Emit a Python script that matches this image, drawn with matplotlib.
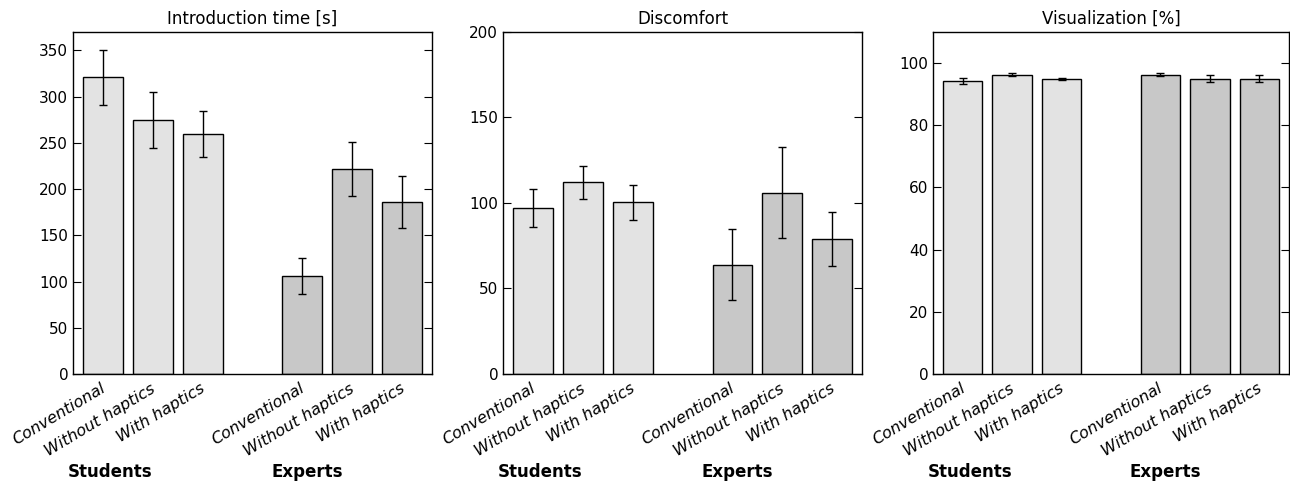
import matplotlib
matplotlib.use("Agg")
import matplotlib.pyplot as plt
import matplotlib.transforms as mtransforms

conditions = ["Conventional", "Without haptics", "With haptics"]
groups = ["Students", "Experts"]

intro_students = [321, 275, 260]
intro_students_err = [30, 30, 25]
intro_experts = [106, 222, 186]
intro_experts_err = [19, 29, 28]

discomfort_students = [97, 112, 100.5]
discomfort_students_err = [11, 9.5, 10.3]
discomfort_experts = [64, 106, 79]
discomfort_experts_err = [20.6, 26.5, 15.7]

visual_students = [94.3, 96.3, 95.0]
visual_students_err = [1.0, 0.5, 0.3]
visual_experts = [96.3, 95.0, 95.0]
visual_experts_err = [0.5, 1.1, 1.1]

panels = [
    ("Introduction time [s]", intro_students, intro_students_err,
     intro_experts, intro_experts_err, 370, [0, 50, 100, 150, 200, 250, 300, 350]),
    ("Discomfort", discomfort_students, discomfort_students_err,
     discomfort_experts, discomfort_experts_err, 200, [0, 50, 100, 150, 200]),
    ("Visualization [%]", visual_students, visual_students_err,
     visual_experts, visual_experts_err, 110, [0, 20, 40, 60, 80, 100]),
]

STUDENT_COLOR = "#e3e3e3"
EXPERT_COLOR = "#c8c8c8"

fig = plt.figure(figsize=(12.9, 4.82), dpi=100)
lefts = [0.0566, 0.390, 0.7233]
widths = [0.2783, 0.2783, 0.2759]
bottom, height = 0.2241, 0.7095

x_students = [0, 1, 2]
x_experts = [4, 5, 6]

# nudge rotated labels a little to the right, like the original
label_shift = mtransforms.ScaledTranslation(0.05, 0, fig.dpi_scale_trans)

for (title, s_vals, s_err, e_vals, e_err, ymax, yticks), left, w in zip(panels, lefts, widths):
    ax = fig.add_axes([left, bottom, w, height])
    ax.bar(x_students, s_vals, width=0.8, color=STUDENT_COLOR, edgecolor="black", linewidth=1.0)
    ax.bar(x_experts, e_vals, width=0.8, color=EXPERT_COLOR, edgecolor="black", linewidth=1.0)
    ax.errorbar(x_students + x_experts, s_vals + e_vals, yerr=s_err + e_err,
                fmt="none", ecolor="black", elinewidth=1.0, capsize=3, capthick=1.0)
    ax.set_xlim(-0.6, 6.6)
    ax.set_ylim(0, ymax)
    ax.set_yticks(yticks)
    ax.set_title(title, fontsize=12)
    ax.set_xticks(x_students + x_experts)
    ax.set_xticklabels(conditions + conditions, rotation=31, ha="right",
                       fontsize=11.5, fontstyle="italic")
    ax.tick_params(axis="x", length=0, pad=5)
    ax.tick_params(axis="y", direction="in", right=True, length=6, labelsize=11)
    for lab in ax.get_xticklabels():
        lab.set_transform(lab.get_transform() + label_shift)
    for sp in ax.spines.values():
        sp.set_linewidth(1.0)
    trans = mtransforms.blended_transform_factory(ax.transData, ax.transAxes)
    ax.text(0.15, -0.287, groups[0], transform=trans, ha="center", va="center",
            fontsize=12, fontweight="bold")
    ax.text(4.1, -0.287, groups[1], transform=trans, ha="center", va="center",
            fontsize=12, fontweight="bold")

fig.savefig("out.png", dpi=100)
